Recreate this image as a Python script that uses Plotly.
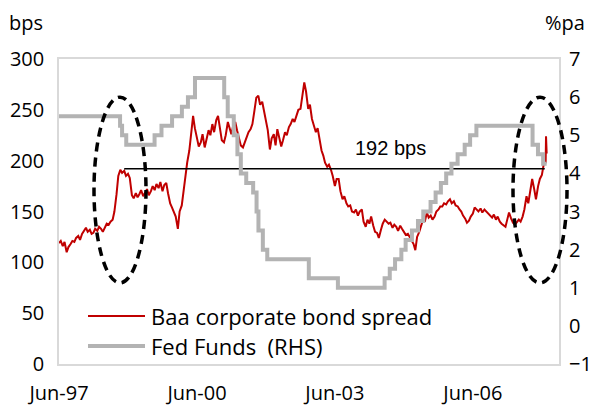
import pandas as pd
from plotly import graph_objs as go

# Baa corporate bond spread (bps), two readings per month (1st, 15th), Jun-97 .. Dec-07
baa_spread = [
    119, 121, 116, 120, 110, 115, 118, 121, 120, 124, 126, 122, 128, 131,  # 1997
    134, 130, 132, 128, 129, 133, 131, 135, 133, 130, 135, 138,
    137, 140, 142, 150, 167, 185, 191, 188, 190, 185, 187, 183,  # 1998
    166, 163, 168, 164, 167, 171, 165, 169, 172, 166, 170, 175,
    171, 177, 173, 179, 170, 176, 178, 168, 158, 154, 150, 145,  # 1999
    133, 150, 156, 170, 185, 198, 210, 226, 244, 232, 221, 214,
    218, 226, 213, 222, 230, 225, 236, 228, 240, 244, 232, 220,  # 2000
    218, 225, 238, 232, 226, 234, 238, 230, 222, 215, 213, 218,
    224, 228, 231, 236, 250, 262, 264, 255, 258, 248, 238, 230,  # 2001
    211, 222, 226, 215, 231, 224, 214, 220, 228, 225, 233, 236,
    241, 238, 245, 250, 251, 262, 277, 268, 251, 255, 241, 235,  # 2002
    228, 232, 218, 210, 205, 198, 194, 196, 191, 185, 175, 182,
    182, 170, 162, 165, 158, 155, 156, 150, 149, 152, 146, 150,  # 2003
    152, 140, 135, 142, 138, 145, 136, 130, 129, 124, 132, 138,
    142, 140, 138, 139, 134, 137, 135, 131, 136, 133, 130, 127,  # 2004
    128, 125, 120, 118, 112, 125, 130, 136, 142, 140, 149, 144,
    146, 142, 145, 150, 152, 155, 155, 158, 157, 160, 162, 158,  # 2005
    160, 156, 155, 152, 150, 146, 143, 139, 141, 145, 148, 154,
    152, 150, 153, 149, 152, 150, 148, 146, 144, 147, 142, 145,  # 2006
    140, 138, 136, 135, 142, 149, 143, 139, 137, 139, 142, 140,
    145, 152, 165, 158, 170, 182, 172, 162, 175, 182, 186, 196,  # 2007
]
baa_dates = list(pd.date_range("1997-06-01", "2007-12-15", freq="SMS"))
# last few days shown on the chart
baa_dates += [pd.Timestamp("2007-12-31"), pd.Timestamp("2008-01-03"), pd.Timestamp("2008-01-08")]
baa_spread += [198, 224, 207]

# Fed funds target (%pa), change dates
fed_dates = [
    "1997-06-01", "1998-09-29", "1998-10-15", "1998-11-17", "1999-06-30",
    "1999-08-24", "1999-11-16", "2000-02-02", "2000-03-21", "2000-05-16",
    "2001-01-03", "2001-01-31", "2001-03-20", "2001-04-18", "2001-05-15",
    "2001-06-27", "2001-08-21", "2001-09-17", "2001-10-02", "2001-11-06",
    "2001-12-11", "2002-11-06", "2003-06-25", "2004-06-30", "2004-08-10",
    "2004-09-21", "2004-11-10", "2004-12-14", "2005-02-02", "2005-03-22",
    "2005-05-03", "2005-06-30", "2005-08-09", "2005-09-20", "2005-11-01",
    "2005-12-13", "2006-01-31", "2006-03-28", "2006-05-10", "2006-06-29",
    "2007-09-18", "2007-10-31", "2007-12-11", "2008-01-08",
]
fed_funds = [
    5.5, 5.25, 5.0, 4.75, 5.0,
    5.25, 5.5, 5.75, 6.0, 6.5,
    6.0, 5.5, 5.0, 4.5, 4.0,
    3.75, 3.5, 3.0, 2.5, 2.0,
    1.75, 1.25, 1.0, 1.25, 1.5,
    1.75, 2.0, 2.25, 2.5, 2.75,
    3.0, 3.25, 3.5, 3.75, 4.0,
    4.25, 4.5, 4.75, 5.0, 5.25,
    4.75, 4.5, 4.25, 4.25,
]

ref_level = 192
ref_dates = ["1998-11-01", "2007-12-24"]

tick_dates = ["1997-06-01", "2000-06-01", "2003-06-01", "2006-06-01"]
tick_text = ["Jun-97", "Jun-00", "Jun-03", "Jun-06"]

FONT = "Open Sans"
RED = "#c00000"
GREY = "#b3b3b3"

fig = go.Figure()
fig.add_trace(go.Scatter(x=baa_dates, y=baa_spread, mode="lines",
                         line=dict(color=RED, width=2), showlegend=False))
fig.add_trace(go.Scatter(x=ref_dates, y=[ref_level, ref_level], mode="lines",
                         line=dict(color="black", width=1.4), showlegend=False))
fig.add_trace(go.Scatter(x=fed_dates, y=fed_funds, mode="lines", yaxis="y2",
                         line=dict(color=GREY, width=4, shape="hv"), showlegend=False))

# the page body keeps its default 8px margin, so the figure is 8px smaller each way
fig.update_layout(
    width=590, height=397,
    margin=dict(l=51, r=39, t=51, b=41),
    paper_bgcolor="white", plot_bgcolor="white",
    font=dict(family=FONT, size=20, color="black"),
    xaxis=dict(range=["1997-06-01", "2008-04-15"], tickvals=tick_dates, ticktext=tick_text,
               showgrid=False, zeroline=False, showline=True, mirror=True, automargin=False,
               linecolor="#d9d9d9", linewidth=1.5, ticks="", ticklabelstandoff=10),
    yaxis=dict(range=[0, 300], dtick=50, showgrid=False, zeroline=False, automargin=False,
               showline=True, mirror=True, linecolor="#d9d9d9", linewidth=1.5,
               ticks="", ticklabelstandoff=9),
    yaxis2=dict(range=[-1, 7], dtick=1, overlaying="y", side="right", showgrid=False,
                automargin=False, zeroline=False, showline=False, ticks="",
                ticklabelstandoff=9),
)

# dashed ellipses around the two spread spikes
for x0, x1 in [(0.07, 0.174), (0.908, 1.016)]:
    fig.add_shape(type="circle", xref="paper", yref="paper", x0=x0, x1=x1,
                  y0=0.266, y1=0.875, line=dict(color="black", width=3.5, dash="9px,6px"))

fig.add_annotation(x="2004-08-15", y=ref_level, text="192 bps", showarrow=False,
                   yanchor="bottom", yshift=8, font=dict(family="Liberation Sans", size=20))

# axis unit labels
fig.add_annotation(x=-0.104, y=1.121, xref="paper", yref="paper", text="bps", showarrow=False,
                   xanchor="left", yanchor="middle", font=dict(size=20))
fig.add_annotation(x=1.056, y=1.121, xref="paper", yref="paper", text="%pa", showarrow=False,
                   xanchor="right", yanchor="middle", font=dict(size=20))

# legend drawn by hand inside the plot
legend_items = [("Baa corporate bond spread", RED, 2, 316), ("Fed Funds  (RHS)", GREY, 4, 346)]
for label, colour, width, py in legend_items:
    yp = (364 - py) / 305
    fig.add_shape(type="line", xref="paper", yref="paper", x0=0.058, x1=0.172, y0=yp, y1=yp,
                  line=dict(color=colour, width=width))
    fig.add_annotation(x=0.18, y=yp, xref="paper", yref="paper", text=label, showarrow=False,
                       xanchor="left", yanchor="middle", font=dict(size=22))

fig.write_html("out.html")
